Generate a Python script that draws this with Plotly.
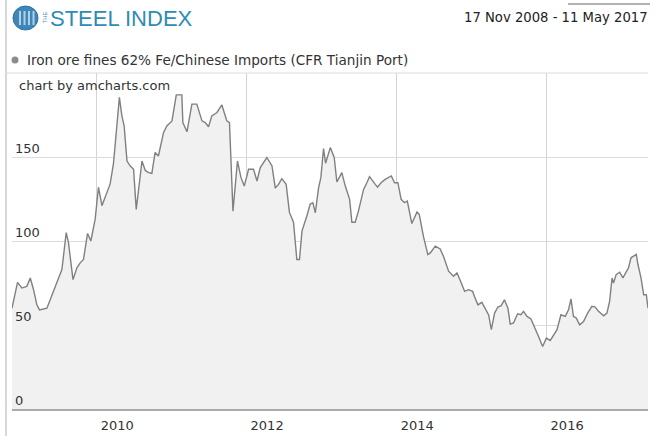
import plotly.graph_objects as go

# ---------------- data ----------------
dates = [
    "2008-11-17", "2008-12-14", "2009-01-04", "2009-01-28", "2009-02-14", "2009-03-02",
    "2009-03-18", "2009-03-31", "2009-05-06", "2009-05-22", "2009-07-01", "2009-07-18",
    "2009-08-08", "2009-08-19", "2009-09-10", "2009-09-29", "2009-10-15", "2009-10-31",
    "2009-11-20", "2009-12-06", "2009-12-27", "2010-01-12", "2010-01-29", "2010-02-22",
    "2010-03-10", "2010-03-26", "2010-04-12", "2010-04-24", "2010-05-06", "2010-05-17",
    "2010-05-31", "2010-06-16", "2010-07-02", "2010-07-15", "2010-08-12", "2010-08-28",
    "2010-09-13", "2010-09-29", "2010-10-15", "2010-10-31", "2010-11-25", "2010-12-11",
    "2011-01-05", "2011-01-26", "2011-02-22", "2011-02-27", "2011-03-19", "2011-04-12",
    "2011-05-06", "2011-05-31", "2011-06-16", "2011-07-02", "2011-07-18", "2011-08-12",
    "2011-09-05", "2011-09-29", "2011-10-12", "2011-10-29", "2011-11-20", "2011-12-07",
    "2011-12-23", "2012-01-13", "2012-02-06", "2012-02-23", "2012-03-10", "2012-04-11",
    "2012-05-06", "2012-05-22", "2012-06-07", "2012-06-23", "2012-07-14", "2012-07-30",
    "2012-08-19", "2012-09-04", "2012-09-17", "2012-09-29", "2012-10-23", "2012-11-08",
    "2012-11-21", "2012-12-03", "2012-12-19", "2012-12-30", "2013-01-12", "2013-01-22",
    "2013-02-14", "2013-03-05", "2013-03-18", "2013-04-11", "2013-04-28", "2013-05-19",
    "2013-05-30", "2013-06-15", "2013-07-01", "2013-07-26", "2013-08-11", "2013-08-24",
    "2013-09-21", "2013-10-02", "2013-10-19", "2013-11-08", "2013-12-08", "2013-12-24",
    "2014-01-09", "2014-01-25", "2014-02-10", "2014-02-24", "2014-03-18", "2014-04-12",
    "2014-04-23", "2014-05-14", "2014-06-04", "2014-06-16", "2014-07-10", "2014-08-03",
    "2014-08-19", "2014-09-13", "2014-10-07", "2014-10-24", "2014-11-14", "2014-11-30",
    "2014-12-19", "2015-01-08", "2015-01-17", "2015-02-03", "2015-02-22", "2015-03-10",
    "2015-03-27", "2015-04-09", "2015-04-25", "2015-05-11", "2015-05-27", "2015-06-12",
    "2015-06-29", "2015-07-10", "2015-07-26", "2015-08-15", "2015-08-31", "2015-09-13",
    "2015-09-30", "2015-10-19", "2015-11-09", "2015-11-25", "2015-12-15", "2016-01-02",
    "2016-01-21", "2016-02-09", "2016-02-23", "2016-03-13", "2016-04-03", "2016-04-19",
    "2016-05-01", "2016-05-13", "2016-05-27", "2016-06-12", "2016-07-01", "2016-07-21",
    "2016-08-11", "2016-08-27", "2016-09-12", "2016-10-07", "2016-10-23", "2016-11-05",
    "2016-11-17", "2016-11-24", "2016-12-07", "2016-12-24", "2017-01-09", "2017-01-20",
    "2017-02-05", "2017-02-17", "2017-03-05", "2017-03-15", "2017-03-23", "2017-04-07",
    "2017-04-20", "2017-05-03", "2017-05-11",
]
prices = [
    60.0, 75.4, 72.0, 73.0, 78.0, 71.0,
    62.0, 59.0, 60.0, 65.0, 78.0, 83.0,
    105.0, 99.0, 77.0, 84.0, 87.0, 89.0,
    104.5, 100.0, 113.0, 132.0, 121.0, 129.0,
    134.0, 146.0, 170.5, 185.5, 174.5, 168.5,
    147.6, 144.6, 142.7, 118.8, 147.6, 142.0,
    140.7, 140.3, 152.7, 150.6, 164.6, 168.5,
    171.5, 187.0, 187.0, 170.5, 165.0, 181.5,
    181.5, 171.5, 170.5, 168.0, 174.5, 176.5,
    181.0, 171.5, 170.5, 117.8, 147.6, 137.7,
    132.7, 142.7, 142.7, 135.7, 143.7, 149.7,
    144.7, 131.5, 133.7, 137.1, 133.7, 117.0,
    111.0, 89.0, 89.0, 105.9, 115.0, 122.0,
    122.8, 116.8, 131.8, 137.7, 155.0, 146.3,
    155.6, 149.7, 135.1, 140.7, 132.7, 124.8,
    111.2, 111.2, 117.8, 130.7, 134.7, 138.3,
    133.7, 132.1, 134.7, 136.7, 138.7, 134.7,
    134.7, 124.8, 122.8, 123.8, 110.4, 117.2,
    115.8, 102.5, 91.9, 92.9, 96.9, 95.3,
    90.9, 82.0, 79.0, 81.0, 75.0, 70.0,
    71.0, 70.0, 67.0, 62.0, 63.5, 60.0,
    56.0, 47.2, 57.1, 60.7, 61.5, 65.0,
    60.0, 50.5, 51.2, 56.7, 56.1, 58.1,
    55.1, 53.6, 48.2, 43.2, 37.2, 42.2,
    40.8, 44.2, 47.2, 56.1, 55.1, 59.1,
    65.5, 55.1, 54.1, 50.1, 52.1, 57.1,
    61.1, 60.7, 58.1, 55.5, 57.1, 64.1,
    78.0, 75.0, 80.0, 81.4, 78.0, 80.6,
    84.0, 90.0, 91.3, 92.0, 86.0, 78.0,
    68.0, 68.0, 60.0,
]
x_range = ["2008-11-17", "2017-05-11"]
x_tick_dates = ["2010-01-01", "2012-01-01", "2014-01-01", "2016-01-01"]
x_tick_labels = ["2010", "2012", "2014", "2016"]
y_tick_vals = [0, 50, 100, 150, 200]
y_tick_labels = ["0", "50", "100", "150", ""]
series_name = "Iron ore fines 62% Fe/Chinese Imports (CFR Tianjin Port)"
period_text = "17 Nov 2008 - 11 May 2017"

# ---------------- layout geometry (pixels) ----------------
W, H = 662, 442
L, R, T, B = 12, 648, 73, 409


def px(x):
    return (x - L) / (R - L)


def py(y):
    return (B - y) / (B - T)


FONT = "DejaVu Sans, Verdana, sans-serif"

fig = go.Figure(
    go.Scatter(
        x=dates, y=prices, mode="lines",
        line=dict(color="#808080", width=1.4),
        fill="tozeroy", fillcolor="#f1f1f1",
        name=series_name, hoverinfo="skip",
    )
)

shapes = [
    # left page border
    dict(type="line", xref="paper", yref="paper", x0=px(6), x1=px(6), y0=py(0), y1=py(436),
         line=dict(color="#b0b0b0", width=1)),
    # top grid line (200)
    dict(type="line", xref="paper", yref="paper", x0=px(5), x1=px(648), y0=py(73), y1=py(73),
         line=dict(color="#dcdcdc", width=1)),
    # small bar above the period text
    dict(type="line", xref="paper", yref="paper", x0=px(568), x1=px(650), y0=py(4), y1=py(4),
         line=dict(color="#666666", width=1)),
    # legend marker
    dict(type="circle", xref="paper", yref="paper", x0=px(11.5), x1=px(18.5), y0=py(63.5), y1=py(56.5),
         fillcolor="#8c8c8c", line=dict(width=0)),
    # logo globe
    dict(type="circle", xref="paper", yref="paper", x0=px(13), x1=px(38), y0=py(30), y1=py(6),
         fillcolor="#3f86b8", line=dict(color="#2f74a4", width=1)),
]
for sx in (19, 23.5, 28, 32.5):
    shapes.append(dict(type="rect", xref="paper", yref="paper", x0=px(sx), x1=px(sx + 2),
                       y0=py(25), y1=py(11), fillcolor="#d7e8f3", line=dict(width=0), opacity=0.75))

annotations = [
    dict(text="THE", xref="paper", yref="paper", x=px(44.5), y=py(18), textangle=-90,
         showarrow=False, font=dict(family="Liberation Sans, Arial", size=6, color="#4f93c2"),
         xanchor="center", yanchor="middle"),
    dict(text="STEEL INDEX", xref="paper", yref="paper", x=px(48), y=py(18.5),
         showarrow=False, font=dict(family="Liberation Sans, Arial", size=22, color="#2e8bb6"),
         xanchor="left", yanchor="middle"),
    dict(text=period_text, xref="paper", yref="paper", x=px(650), y=py(18),
         showarrow=False, font=dict(family=FONT, size=13.2, color="#222222"),
         xanchor="right", yanchor="middle"),
    dict(text=series_name, xref="paper", yref="paper", x=px(25), y=py(60),
         showarrow=False, font=dict(family=FONT, size=13.6, color="#333333"),
         xanchor="left", yanchor="middle"),
    dict(text="chart by amcharts.com", xref="paper", yref="paper", x=px(17), y=py(85),
         showarrow=False, font=dict(family=FONT, size=13, color="#333333"),
         xanchor="left", yanchor="middle"),
]

fig.update_layout(
    width=W, height=H,
    margin=dict(l=L, r=W - R, t=T, b=H - B, pad=0, autoexpand=False),
    paper_bgcolor="white", plot_bgcolor="white",
    showlegend=False,
    font=dict(family=FONT, size=13, color="#333333"),
    shapes=shapes, annotations=annotations,
    xaxis=dict(
        type="date", range=x_range, tickmode="array",
        tickvals=x_tick_dates, ticktext=x_tick_labels,
        showgrid=True, gridcolor="#d4d4d4", gridwidth=1,
        showline=True, linecolor="#aaaaaa", linewidth=2,
        ticks="", ticklabelshift=21, ticklabelstandoff=3,
        tickfont=dict(family=FONT, size=13, color="#333333"),
        zeroline=False, fixedrange=True, automargin=False,
    ),
    yaxis=dict(
        range=[0, 200], tickmode="array", tickvals=y_tick_vals, ticktext=y_tick_labels,
        showgrid=True, gridcolor="#dcdcdc", gridwidth=1,
        ticks="", ticklabelposition="inside top",
        ticklabelstandoff=0, ticklabelshift=1,
        tickfont=dict(family=FONT, size=13, color="#333333"),
        zeroline=False, showline=False, fixedrange=True, automargin=False,
    ),
)

fig.write_html("out.html")
